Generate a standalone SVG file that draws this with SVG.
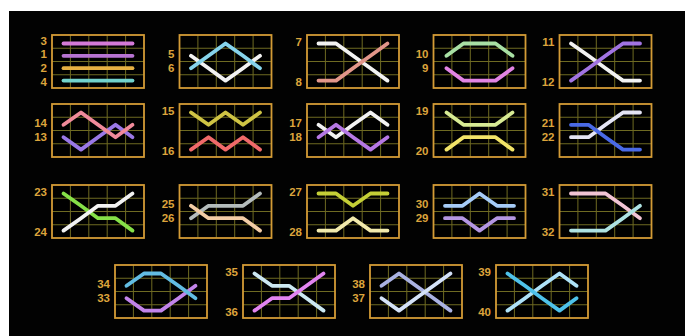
<svg xmlns="http://www.w3.org/2000/svg" xmlns:xlink="http://www.w3.org/1999/xlink" width="685" height="336" viewBox="0 0 685 336">
<style>
.lbl{font-family:"Liberation Sans",Arial,sans-serif;font-weight:bold;font-size:11.5px;fill:#dca43c;text-anchor:end}
.pl{fill:none;stroke-width:3.8;stroke-linecap:round;stroke-linejoin:round}
.grid{stroke:#6e6a22;stroke-width:1}
.frame{fill:none;stroke:#d39b36;stroke-width:1.8}
</style>
<defs>
<g id="panel">
<rect x="0" y="0" width="92" height="53" fill="#000"/>
<path class="grid" d="M18.4 0V53M36.8 0V53M55.2 0V53M73.6 0V53M0 13.25H92M0 26.5H92M0 39.75H92"/>
<rect class="frame" x="0" y="0" width="92" height="53"/>
</g>
</defs>
<rect width="685" height="336" fill="#ffffff"/>
<rect x="9" y="11" width="676" height="325" fill="#020202"/>

<g id="p-3-1-2-4" transform="translate(52,35)">
<use xlink:href="#panel"/>
<polyline class="pl" stroke="#d47ad8" points="11.5,8.5 80.5,8.5"/>
<polyline class="pl" stroke="#b673d2" points="11.5,20.8 80.5,20.8"/>
<polyline class="pl" stroke="#e6b043" points="11.5,33.2 80.5,33.2"/>
<polyline class="pl" stroke="#72d2cc" points="11.5,45.6 80.5,45.6"/>
<text class="lbl" x="-5" y="10.1">3</text>
<text class="lbl" x="-5" y="23.3">1</text>
<text class="lbl" x="-5" y="36.6">2</text>
<text class="lbl" x="-5" y="50.5">4</text>
</g>

<g id="p-5-6" transform="translate(179.5,35)">
<use xlink:href="#panel"/>
<polyline class="pl" stroke="#f2f2f2" points="11.5,20.8 29,33.2 46,45.6 63.5,33.2 80.5,20.8"/>
<polyline class="pl" stroke="#86d4ec" points="11.5,33.2 29,20.8 46,8.5 63.5,20.8 80.5,33.2"/>
<text class="lbl" x="-5" y="23.3">5</text>
<text class="lbl" x="-5" y="36.6">6</text>
</g>

<g id="p-7-8" transform="translate(307,35)">
<use xlink:href="#panel"/>
<polyline class="pl" stroke="#f2f2f2" points="11.5,8.5 29,8.5 46,20.8 63.5,33.2 80.5,45.6"/>
<polyline class="pl" stroke="#e2968a" points="11.5,45.6 29,45.6 46,33.2 63.5,20.8 80.5,8.5"/>
<text class="lbl" x="-5" y="10.6">7</text>
<text class="lbl" x="-5" y="51">8</text>
</g>

<g id="p-10-9" transform="translate(433.5,35)">
<use xlink:href="#panel"/>
<polyline class="pl" stroke="#a8e0a4" points="13,20.8 30,8.5 46,8.5 62,8.5 79,20.8"/>
<polyline class="pl" stroke="#e284e4" points="13,33.2 30,45.6 46,45.6 62,45.6 79,33.2"/>
<text class="lbl" x="-5" y="23.3">10</text>
<text class="lbl" x="-5" y="36.6">9</text>
</g>

<g id="p-11-12" transform="translate(559.5,35)">
<use xlink:href="#panel"/>
<polyline class="pl" stroke="#f2f2f2" points="11.5,8.5 29,20.8 46,33.2 63.5,45.6 80.5,45.6"/>
<polyline class="pl" stroke="#a274e2" points="11.5,45.6 29,33.2 46,20.8 63.5,8.5 80.5,8.5"/>
<text class="lbl" x="-5" y="10.6">11</text>
<text class="lbl" x="-5" y="51">12</text>
</g>

<g id="p-14-13" transform="translate(52,104)">
<use xlink:href="#panel"/>
<polyline class="pl" stroke="#9a78e6" points="11.5,33.2 29,45.6 46,33.2 63.5,20.8 80.5,33.2"/>
<polyline class="pl" stroke="#f08a9a" points="11.5,20.8 29,8.5 46,20.8 63.5,33.2 80.5,20.8"/>
<text class="lbl" x="-5" y="23.3">14</text>
<text class="lbl" x="-5" y="36.6">13</text>
</g>

<g id="p-15-16" transform="translate(179.5,104)">
<use xlink:href="#panel"/>
<polyline class="pl" stroke="#cfc444" points="11.5,8.5 29,20.8 46,8.5 63.5,20.8 80.5,8.5"/>
<polyline class="pl" stroke="#f06a6a" points="11.5,45.6 29,33.2 46,45.6 63.5,33.2 80.5,45.6"/>
<text class="lbl" x="-5" y="10.6">15</text>
<text class="lbl" x="-5" y="51">16</text>
</g>

<g id="p-17-18" transform="translate(307,104)">
<use xlink:href="#panel"/>
<polyline class="pl" stroke="#f2f2f2" points="11.5,20.8 29,33.2 46,20.8 63.5,8.5 80.5,20.8"/>
<polyline class="pl" stroke="#b678e4" points="11.5,33.2 29,20.8 46,33.2 63.5,45.6 80.5,33.2"/>
<text class="lbl" x="-5" y="23.3">17</text>
<text class="lbl" x="-5" y="36.6">18</text>
</g>

<g id="p-19-20" transform="translate(433.5,104)">
<use xlink:href="#panel"/>
<polyline class="pl" stroke="#d8eb94" points="13,8.5 30,20.8 46,20.8 62,20.8 79,8.5"/>
<polyline class="pl" stroke="#f2e468" points="13,45.6 30,33.2 46,33.2 62,33.2 79,45.6"/>
<text class="lbl" x="-5" y="10.6">19</text>
<text class="lbl" x="-5" y="51">20</text>
</g>

<g id="p-21-22" transform="translate(559.5,104)">
<use xlink:href="#panel"/>
<polyline class="pl" stroke="#e4e4f4" points="11.5,33.2 29,33.2 46,20.8 63.5,8.5 80.5,8.5"/>
<polyline class="pl" stroke="#4a6ae6" points="11.5,20.8 29,20.8 46,33.2 63.5,45.6 80.5,45.6"/>
<text class="lbl" x="-5" y="23.3">21</text>
<text class="lbl" x="-5" y="36.6">22</text>
</g>

<g id="p-23-24" transform="translate(52,185)">
<use xlink:href="#panel"/>
<polyline class="pl" stroke="#86e048" points="11.5,8.5 29,20.8 46,33.2 63.5,33.2 80.5,45.6"/>
<polyline class="pl" stroke="#f2f2f2" points="11.5,45.6 29,33.2 46,20.8 63.5,20.8 80.5,8.5"/>
<text class="lbl" x="-5" y="10.6">23</text>
<text class="lbl" x="-5" y="51">24</text>
</g>

<g id="p-25-26" transform="translate(179.5,185)">
<use xlink:href="#panel"/>
<polyline class="pl" stroke="#b4bcbc" points="11.5,33.2 29,20.8 46,20.8 63.5,20.8 80.5,8.5"/>
<polyline class="pl" stroke="#f2cca6" points="11.5,20.8 29,33.2 46,33.2 63.5,33.2 80.5,45.6"/>
<text class="lbl" x="-5" y="23.3">25</text>
<text class="lbl" x="-5" y="36.6">26</text>
</g>

<g id="p-27-28" transform="translate(307,185)">
<use xlink:href="#panel"/>
<polyline class="pl" stroke="#c4cf36" points="11.5,8.5 29,8.5 46,20.8 63.5,8.5 80.5,8.5"/>
<polyline class="pl" stroke="#f2eaac" points="11.5,45.6 29,45.6 46,33.2 63.5,45.6 80.5,45.6"/>
<text class="lbl" x="-5" y="10.6">27</text>
<text class="lbl" x="-5" y="51">28</text>
</g>

<g id="p-30-29" transform="translate(433.5,185)">
<use xlink:href="#panel"/>
<polyline class="pl" stroke="#a6ccf8" points="11.5,20.8 29,20.8 46,8.5 63.5,20.8 80.5,20.8"/>
<polyline class="pl" stroke="#b496e2" points="11.5,33.2 29,33.2 46,45.6 63.5,33.2 80.5,33.2"/>
<text class="lbl" x="-5" y="23.3">30</text>
<text class="lbl" x="-5" y="36.6">29</text>
</g>

<g id="p-31-32" transform="translate(559.5,185)">
<use xlink:href="#panel"/>
<polyline class="pl" stroke="#f2c4d4" points="11.5,8.5 29,8.5 46,8.5 63.5,20.8 80.5,33.2"/>
<polyline class="pl" stroke="#aee2e2" points="11.5,45.6 29,45.6 46,45.6 63.5,33.2 80.5,20.8"/>
<text class="lbl" x="-5" y="10.6">31</text>
<text class="lbl" x="-5" y="51">32</text>
</g>

<g id="p-34-33" transform="translate(115,265)">
<use xlink:href="#panel"/>
<polyline class="pl" stroke="#c284ea" points="11.5,33.2 29,45.6 46,45.6 63.5,33.2 80.5,20.8"/>
<polyline class="pl" stroke="#62bce2" points="11.5,20.8 29,8.5 46,8.5 63.5,20.8 80.5,33.2"/>
<text class="lbl" x="-5" y="23.3">34</text>
<text class="lbl" x="-5" y="36.6">33</text>
</g>

<g id="p-35-36" transform="translate(243,265)">
<use xlink:href="#panel"/>
<polyline class="pl" stroke="#cce8f2" points="11.5,8.5 29,20.8 46,20.8 63.5,33.2 80.5,45.6"/>
<polyline class="pl" stroke="#e284f0" points="11.5,45.6 29,33.2 46,33.2 63.5,20.8 80.5,8.5"/>
<text class="lbl" x="-5" y="10.6">35</text>
<text class="lbl" x="-5" y="51">36</text>
</g>

<g id="p-38-37" transform="translate(370,265)">
<use xlink:href="#panel"/>
<polyline class="pl" stroke="#aab2e2" points="11.5,20.8 29,8.5 46,20.8 63.5,33.2 80.5,45.6"/>
<polyline class="pl" stroke="#d4e2f8" points="11.5,33.2 29,45.6 46,33.2 63.5,20.8 80.5,8.5"/>
<text class="lbl" x="-5" y="23.3">38</text>
<text class="lbl" x="-5" y="36.6">37</text>
</g>

<g id="p-39-40" transform="translate(496,265)">
<use xlink:href="#panel"/>
<polyline class="pl" stroke="#aee2f8" points="11.5,45.6 29,33.2 46,20.8 63.5,8.5 80.5,20.8"/>
<polyline class="pl" stroke="#4ec2ea" points="11.5,8.5 29,20.8 46,33.2 63.5,45.6 80.5,33.2"/>
<text class="lbl" x="-5" y="10.6">39</text>
<text class="lbl" x="-5" y="51">40</text>
</g>
</svg>
